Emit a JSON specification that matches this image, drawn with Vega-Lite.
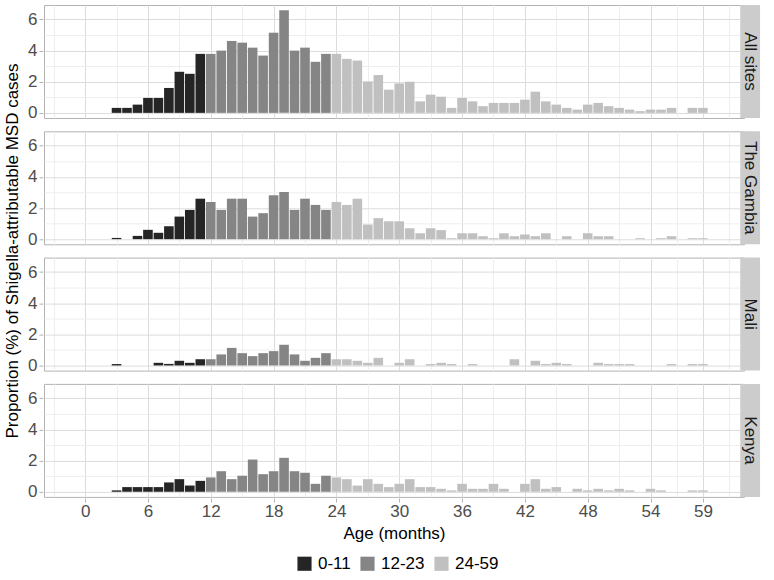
{
  "$schema": "https://vega.github.io/schema/vega-lite/v6.json",
  "padding": {"left": 3, "top": 4, "right": 5, "bottom": 5},
  "background": "white",
  "data": {"values": [
    {"site":"All sites","age":3,"group":"0-11","pct":0.32},
    {"site":"All sites","age":4,"group":"0-11","pct":0.32},
    {"site":"All sites","age":5,"group":"0-11","pct":0.53},
    {"site":"All sites","age":6,"group":"0-11","pct":0.96},
    {"site":"All sites","age":7,"group":"0-11","pct":0.96},
    {"site":"All sites","age":8,"group":"0-11","pct":1.6},
    {"site":"All sites","age":9,"group":"0-11","pct":2.64},
    {"site":"All sites","age":10,"group":"0-11","pct":2.51},
    {"site":"All sites","age":11,"group":"0-11","pct":3.79},
    {"site":"All sites","age":12,"group":"12-23","pct":3.79},
    {"site":"All sites","age":13,"group":"12-23","pct":4.0},
    {"site":"All sites","age":14,"group":"12-23","pct":4.62},
    {"site":"All sites","age":15,"group":"12-23","pct":4.51},
    {"site":"All sites","age":16,"group":"12-23","pct":4.19},
    {"site":"All sites","age":17,"group":"12-23","pct":3.68},
    {"site":"All sites","age":18,"group":"12-23","pct":5.15},
    {"site":"All sites","age":19,"group":"12-23","pct":6.6},
    {"site":"All sites","age":20,"group":"12-23","pct":4.0},
    {"site":"All sites","age":21,"group":"12-23","pct":4.19},
    {"site":"All sites","age":22,"group":"12-23","pct":3.28},
    {"site":"All sites","age":23,"group":"12-23","pct":3.79},
    {"site":"All sites","age":24,"group":"24-59","pct":3.79},
    {"site":"All sites","age":25,"group":"24-59","pct":3.47},
    {"site":"All sites","age":26,"group":"24-59","pct":3.36},
    {"site":"All sites","age":27,"group":"24-59","pct":2.02},
    {"site":"All sites","age":28,"group":"24-59","pct":2.43},
    {"site":"All sites","age":29,"group":"24-59","pct":1.49},
    {"site":"All sites","age":30,"group":"24-59","pct":1.89},
    {"site":"All sites","age":31,"group":"24-59","pct":2.0},
    {"site":"All sites","age":32,"group":"24-59","pct":0.74},
    {"site":"All sites","age":33,"group":"24-59","pct":1.17},
    {"site":"All sites","age":34,"group":"24-59","pct":1.04},
    {"site":"All sites","age":35,"group":"24-59","pct":0.32},
    {"site":"All sites","age":36,"group":"24-59","pct":0.96},
    {"site":"All sites","age":37,"group":"24-59","pct":0.74},
    {"site":"All sites","age":38,"group":"24-59","pct":0.43},
    {"site":"All sites","age":39,"group":"24-59","pct":0.64},
    {"site":"All sites","age":40,"group":"24-59","pct":0.64},
    {"site":"All sites","age":41,"group":"24-59","pct":0.64},
    {"site":"All sites","age":42,"group":"24-59","pct":0.85},
    {"site":"All sites","age":43,"group":"24-59","pct":1.36},
    {"site":"All sites","age":44,"group":"24-59","pct":0.74},
    {"site":"All sites","age":45,"group":"24-59","pct":0.53},
    {"site":"All sites","age":46,"group":"24-59","pct":0.32},
    {"site":"All sites","age":47,"group":"24-59","pct":0.21},
    {"site":"All sites","age":48,"group":"24-59","pct":0.53},
    {"site":"All sites","age":49,"group":"24-59","pct":0.64},
    {"site":"All sites","age":50,"group":"24-59","pct":0.43},
    {"site":"All sites","age":51,"group":"24-59","pct":0.32},
    {"site":"All sites","age":52,"group":"24-59","pct":0.21},
    {"site":"All sites","age":53,"group":"24-59","pct":0.11},
    {"site":"All sites","age":54,"group":"24-59","pct":0.21},
    {"site":"All sites","age":55,"group":"24-59","pct":0.21},
    {"site":"All sites","age":56,"group":"24-59","pct":0.32},
    {"site":"All sites","age":58,"group":"24-59","pct":0.32},
    {"site":"All sites","age":59,"group":"24-59","pct":0.32},

    {"site":"The Gambia","age":3,"group":"0-11","pct":0.08},
    {"site":"The Gambia","age":5,"group":"0-11","pct":0.21},
    {"site":"The Gambia","age":6,"group":"0-11","pct":0.6},
    {"site":"The Gambia","age":7,"group":"0-11","pct":0.41},
    {"site":"The Gambia","age":8,"group":"0-11","pct":0.83},
    {"site":"The Gambia","age":9,"group":"0-11","pct":1.45},
    {"site":"The Gambia","age":10,"group":"0-11","pct":1.88},
    {"site":"The Gambia","age":11,"group":"0-11","pct":2.6},
    {"site":"The Gambia","age":12,"group":"12-23","pct":2.39},
    {"site":"The Gambia","age":13,"group":"12-23","pct":1.88},
    {"site":"The Gambia","age":14,"group":"12-23","pct":2.6},
    {"site":"The Gambia","age":15,"group":"12-23","pct":2.6},
    {"site":"The Gambia","age":16,"group":"12-23","pct":1.45},
    {"site":"The Gambia","age":17,"group":"12-23","pct":1.67},
    {"site":"The Gambia","age":18,"group":"12-23","pct":2.82},
    {"site":"The Gambia","age":19,"group":"12-23","pct":3.03},
    {"site":"The Gambia","age":20,"group":"12-23","pct":1.88},
    {"site":"The Gambia","age":21,"group":"12-23","pct":2.6},
    {"site":"The Gambia","age":22,"group":"12-23","pct":2.2},
    {"site":"The Gambia","age":23,"group":"12-23","pct":1.88},
    {"site":"The Gambia","age":24,"group":"24-59","pct":2.39},
    {"site":"The Gambia","age":25,"group":"24-59","pct":2.2},
    {"site":"The Gambia","age":26,"group":"24-59","pct":2.6},
    {"site":"The Gambia","age":27,"group":"24-59","pct":0.94},
    {"site":"The Gambia","age":28,"group":"24-59","pct":1.35},
    {"site":"The Gambia","age":29,"group":"24-59","pct":1.15},
    {"site":"The Gambia","age":30,"group":"24-59","pct":1.15},
    {"site":"The Gambia","age":31,"group":"24-59","pct":0.7},
    {"site":"The Gambia","age":32,"group":"24-59","pct":0.38},
    {"site":"The Gambia","age":33,"group":"24-59","pct":0.7},
    {"site":"The Gambia","age":34,"group":"24-59","pct":0.58},
    {"site":"The Gambia","age":35,"group":"24-59","pct":0.06},
    {"site":"The Gambia","age":36,"group":"24-59","pct":0.38},
    {"site":"The Gambia","age":37,"group":"24-59","pct":0.38},
    {"site":"The Gambia","age":38,"group":"24-59","pct":0.19},
    {"site":"The Gambia","age":39,"group":"24-59","pct":0.06},
    {"site":"The Gambia","age":40,"group":"24-59","pct":0.38},
    {"site":"The Gambia","age":41,"group":"24-59","pct":0.19},
    {"site":"The Gambia","age":42,"group":"24-59","pct":0.3},
    {"site":"The Gambia","age":43,"group":"24-59","pct":0.19},
    {"site":"The Gambia","age":44,"group":"24-59","pct":0.38},
    {"site":"The Gambia","age":46,"group":"24-59","pct":0.19},
    {"site":"The Gambia","age":48,"group":"24-59","pct":0.38},
    {"site":"The Gambia","age":49,"group":"24-59","pct":0.19},
    {"site":"The Gambia","age":50,"group":"24-59","pct":0.19},
    {"site":"The Gambia","age":53,"group":"24-59","pct":0.06},
    {"site":"The Gambia","age":55,"group":"24-59","pct":0.06},
    {"site":"The Gambia","age":56,"group":"24-59","pct":0.19},
    {"site":"The Gambia","age":58,"group":"24-59","pct":0.06},
    {"site":"The Gambia","age":59,"group":"24-59","pct":0.06},

    {"site":"Mali","age":3,"group":"0-11","pct":0.09},
    {"site":"Mali","age":7,"group":"0-11","pct":0.17},
    {"site":"Mali","age":8,"group":"0-11","pct":0.1},
    {"site":"Mali","age":9,"group":"0-11","pct":0.3},
    {"site":"Mali","age":10,"group":"0-11","pct":0.17},
    {"site":"Mali","age":11,"group":"0-11","pct":0.4},
    {"site":"Mali","age":12,"group":"12-23","pct":0.4},
    {"site":"Mali","age":13,"group":"12-23","pct":0.71},
    {"site":"Mali","age":14,"group":"12-23","pct":1.13},
    {"site":"Mali","age":15,"group":"12-23","pct":0.79},
    {"site":"Mali","age":16,"group":"12-23","pct":0.6},
    {"site":"Mali","age":17,"group":"12-23","pct":0.79},
    {"site":"Mali","age":18,"group":"12-23","pct":0.92},
    {"site":"Mali","age":19,"group":"12-23","pct":1.33},
    {"site":"Mali","age":20,"group":"12-23","pct":0.71},
    {"site":"Mali","age":21,"group":"12-23","pct":0.3},
    {"site":"Mali","age":22,"group":"12-23","pct":0.49},
    {"site":"Mali","age":23,"group":"12-23","pct":0.79},
    {"site":"Mali","age":24,"group":"24-59","pct":0.4},
    {"site":"Mali","age":25,"group":"24-59","pct":0.4},
    {"site":"Mali","age":26,"group":"24-59","pct":0.3},
    {"site":"Mali","age":27,"group":"24-59","pct":0.17},
    {"site":"Mali","age":28,"group":"24-59","pct":0.49},
    {"site":"Mali","age":30,"group":"24-59","pct":0.17},
    {"site":"Mali","age":31,"group":"24-59","pct":0.4},
    {"site":"Mali","age":33,"group":"24-59","pct":0.09},
    {"site":"Mali","age":34,"group":"24-59","pct":0.17},
    {"site":"Mali","age":35,"group":"24-59","pct":0.09},
    {"site":"Mali","age":37,"group":"24-59","pct":0.09},
    {"site":"Mali","age":41,"group":"24-59","pct":0.4},
    {"site":"Mali","age":43,"group":"24-59","pct":0.3},
    {"site":"Mali","age":44,"group":"24-59","pct":0.09},
    {"site":"Mali","age":45,"group":"24-59","pct":0.17},
    {"site":"Mali","age":46,"group":"24-59","pct":0.09},
    {"site":"Mali","age":49,"group":"24-59","pct":0.17},
    {"site":"Mali","age":50,"group":"24-59","pct":0.09},
    {"site":"Mali","age":51,"group":"24-59","pct":0.09},
    {"site":"Mali","age":52,"group":"24-59","pct":0.09},
    {"site":"Mali","age":56,"group":"24-59","pct":0.09},
    {"site":"Mali","age":58,"group":"24-59","pct":0.09},
    {"site":"Mali","age":59,"group":"24-59","pct":0.09},

    {"site":"Kenya","age":3,"group":"0-11","pct":0.09},
    {"site":"Kenya","age":4,"group":"0-11","pct":0.3},
    {"site":"Kenya","age":5,"group":"0-11","pct":0.3},
    {"site":"Kenya","age":6,"group":"0-11","pct":0.3},
    {"site":"Kenya","age":7,"group":"0-11","pct":0.3},
    {"site":"Kenya","age":8,"group":"0-11","pct":0.6},
    {"site":"Kenya","age":9,"group":"0-11","pct":0.81},
    {"site":"Kenya","age":10,"group":"0-11","pct":0.4},
    {"site":"Kenya","age":11,"group":"0-11","pct":0.7},
    {"site":"Kenya","age":12,"group":"12-23","pct":0.92},
    {"site":"Kenya","age":13,"group":"12-23","pct":1.32},
    {"site":"Kenya","age":14,"group":"12-23","pct":0.81},
    {"site":"Kenya","age":15,"group":"12-23","pct":1.03},
    {"site":"Kenya","age":16,"group":"12-23","pct":2.07},
    {"site":"Kenya","age":17,"group":"12-23","pct":1.13},
    {"site":"Kenya","age":18,"group":"12-23","pct":1.32},
    {"site":"Kenya","age":19,"group":"12-23","pct":2.18},
    {"site":"Kenya","age":20,"group":"12-23","pct":1.32},
    {"site":"Kenya","age":21,"group":"12-23","pct":1.22},
    {"site":"Kenya","age":22,"group":"12-23","pct":0.51},
    {"site":"Kenya","age":23,"group":"12-23","pct":1.03},
    {"site":"Kenya","age":24,"group":"24-59","pct":0.92},
    {"site":"Kenya","age":25,"group":"24-59","pct":0.81},
    {"site":"Kenya","age":26,"group":"24-59","pct":0.4},
    {"site":"Kenya","age":27,"group":"24-59","pct":0.81},
    {"site":"Kenya","age":28,"group":"24-59","pct":0.51},
    {"site":"Kenya","age":29,"group":"24-59","pct":0.3},
    {"site":"Kenya","age":30,"group":"24-59","pct":0.51},
    {"site":"Kenya","age":31,"group":"24-59","pct":0.81},
    {"site":"Kenya","age":32,"group":"24-59","pct":0.3},
    {"site":"Kenya","age":33,"group":"24-59","pct":0.3},
    {"site":"Kenya","age":34,"group":"24-59","pct":0.19},
    {"site":"Kenya","age":35,"group":"24-59","pct":0.09},
    {"site":"Kenya","age":36,"group":"24-59","pct":0.51},
    {"site":"Kenya","age":37,"group":"24-59","pct":0.19},
    {"site":"Kenya","age":38,"group":"24-59","pct":0.19},
    {"site":"Kenya","age":39,"group":"24-59","pct":0.51},
    {"site":"Kenya","age":40,"group":"24-59","pct":0.19},
    {"site":"Kenya","age":42,"group":"24-59","pct":0.51},
    {"site":"Kenya","age":43,"group":"24-59","pct":0.81},
    {"site":"Kenya","age":44,"group":"24-59","pct":0.19},
    {"site":"Kenya","age":45,"group":"24-59","pct":0.3},
    {"site":"Kenya","age":47,"group":"24-59","pct":0.19},
    {"site":"Kenya","age":48,"group":"24-59","pct":0.09},
    {"site":"Kenya","age":49,"group":"24-59","pct":0.19},
    {"site":"Kenya","age":50,"group":"24-59","pct":0.09},
    {"site":"Kenya","age":51,"group":"24-59","pct":0.19},
    {"site":"Kenya","age":52,"group":"24-59","pct":0.09},
    {"site":"Kenya","age":54,"group":"24-59","pct":0.19},
    {"site":"Kenya","age":55,"group":"24-59","pct":0.09},
    {"site":"Kenya","age":58,"group":"24-59","pct":0.09},
    {"site":"Kenya","age":59,"group":"24-59","pct":0.09}
  ]},
  "facet": {
    "row": {
      "field": "site",
      "type": "nominal",
      "sort": ["All sites", "The Gambia", "Mali", "Kenya"],
      "header": {
        "title": "Proportion (%) of Shigella-attributable MSD cases",
        "labels": false,
        "titleFontSize": 17,
        "titleFontWeight": "normal",
        "titleColor": "#000000",
        "titlePadding": -5
      }
    }
  },
  "spacing": {"row": 11.3},
  "spec": {
    "width": 700,
    "height": 113,
    "layer": [
      {
        "mark": {"type": "bar", "width": 9.6},
        "encoding": {
          "x": {
            "field": "age",
            "type": "quantitative",
            "scale": {"domain": [-3.45, 62.45], "nice": false, "zero": false},
            "axis": {
              "title": "Age (months)",
              "values": [-3, 0, 3, 6, 9, 12, 15, 18, 21, 24, 27, 30, 33, 36, 39, 42, 45, 48, 51, 54, 56.5, 59, 61.5],
              "labelExpr": "indexof([0,6,12,18,24,30,36,42,48,54,59], datum.value) >= 0 ? datum.label : ''",
              "labelOverlap": false,
              "labelFlush": false,
              "gridColor": {"condition": {"test": "indexof([0,6,12,18,24,30,36,42,48,54,59], datum.value) >= 0", "value": "#dcdcdc"}, "value": "#eeeeee"},
              "tickOpacity": {"condition": {"test": "indexof([0,6,12,18,24,30,36,42,48,54,59], datum.value) >= 0", "value": 1}, "value": 0},
              "titlePadding": 6
            }
          },
          "y": {
            "field": "pct",
            "type": "quantitative",
            "scale": {"domain": [-0.33, 6.93], "nice": false, "zero": false},
            "axis": {
              "title": null,
              "values": [0, 1, 2, 3, 4, 5, 6],
              "labelExpr": "datum.value % 2 == 0 ? datum.label : ''",
              "labelOverlap": false,
              "gridColor": {"condition": {"test": "datum.value % 2 == 0", "value": "#dcdcdc"}, "value": "#eeeeee"},
              "tickOpacity": {"condition": {"test": "datum.value % 2 == 0", "value": 1}, "value": 0},
              "labelPadding": 2
            }
          },
          "color": {
            "field": "group",
            "type": "nominal",
            "scale": {"domain": ["0-11", "12-23", "24-59"], "range": ["#252525", "#858585", "#c0c0c0"]},
            "legend": {
              "title": null,
              "orient": "none",
              "legendX": 252,
              "legendY": 550,
              "direction": "horizontal",
              "symbolType": "square",
              "symbolSize": 200,
              "symbolStrokeWidth": 0,
              "labelFontSize": 17,
              "labelColor": "#000000",
              "columnPadding": 8,
              "labelOffset": 5
            }
          }
        }
      },
      {
        "transform": [{"aggregate": [{"op": "count", "as": "n"}], "groupby": ["site"]}],
        "mark": {"type": "rect", "color": "#cccccc", "clip": false},
        "encoding": {
          "x": {
            "datum": 62.57,
            "type": "quantitative",
            "scale": {"domain": [-3.45, 62.45], "nice": false, "zero": false},
            "axis": {
              "title": "Age (months)",
              "values": [-3, 0, 3, 6, 9, 12, 15, 18, 21, 24, 27, 30, 33, 36, 39, 42, 45, 48, 51, 54, 56.5, 59, 61.5],
              "labelExpr": "indexof([0,6,12,18,24,30,36,42,48,54,59], datum.value) >= 0 ? datum.label : ''",
              "labelOverlap": false,
              "labelFlush": false,
              "gridColor": {"condition": {"test": "indexof([0,6,12,18,24,30,36,42,48,54,59], datum.value) >= 0", "value": "#dcdcdc"}, "value": "#eeeeee"},
              "tickOpacity": {"condition": {"test": "indexof([0,6,12,18,24,30,36,42,48,54,59], datum.value) >= 0", "value": 1}, "value": 0},
              "titlePadding": 6
            }
          },
          "x2": {"datum": 64.46},
          "y": {
            "datum": -0.33,
            "type": "quantitative",
            "scale": {"domain": [-0.33, 6.93], "nice": false, "zero": false},
            "axis": {
              "title": null,
              "values": [0, 1, 2, 3, 4, 5, 6],
              "labelExpr": "datum.value % 2 == 0 ? datum.label : ''",
              "labelOverlap": false,
              "gridColor": {"condition": {"test": "datum.value % 2 == 0", "value": "#dcdcdc"}, "value": "#eeeeee"},
              "tickOpacity": {"condition": {"test": "datum.value % 2 == 0", "value": 1}, "value": 0},
              "labelPadding": 2
            }
          },
          "y2": {"datum": 6.93}
        }
      },
      {
        "transform": [{"aggregate": [{"op": "count", "as": "n"}], "groupby": ["site"]}],
        "mark": {"type": "text", "angle": 90, "fontSize": 17, "color": "#1a1a1a", "align": "center", "baseline": "middle", "clip": false},
        "encoding": {
          "x": {
            "datum": 63.51,
            "type": "quantitative",
            "scale": {"domain": [-3.45, 62.45], "nice": false, "zero": false},
            "axis": {
              "title": "Age (months)",
              "values": [-3, 0, 3, 6, 9, 12, 15, 18, 21, 24, 27, 30, 33, 36, 39, 42, 45, 48, 51, 54, 56.5, 59, 61.5],
              "labelExpr": "indexof([0,6,12,18,24,30,36,42,48,54,59], datum.value) >= 0 ? datum.label : ''",
              "labelOverlap": false,
              "labelFlush": false,
              "gridColor": {"condition": {"test": "indexof([0,6,12,18,24,30,36,42,48,54,59], datum.value) >= 0", "value": "#dcdcdc"}, "value": "#eeeeee"},
              "tickOpacity": {"condition": {"test": "indexof([0,6,12,18,24,30,36,42,48,54,59], datum.value) >= 0", "value": 1}, "value": 0},
              "titlePadding": 6
            }
          },
          "y": {
            "datum": 3.3,
            "type": "quantitative",
            "scale": {"domain": [-0.33, 6.93], "nice": false, "zero": false},
            "axis": {
              "title": null,
              "values": [0, 1, 2, 3, 4, 5, 6],
              "labelExpr": "datum.value % 2 == 0 ? datum.label : ''",
              "labelOverlap": false,
              "gridColor": {"condition": {"test": "datum.value % 2 == 0", "value": "#dcdcdc"}, "value": "#eeeeee"},
              "tickOpacity": {"condition": {"test": "datum.value % 2 == 0", "value": 1}, "value": 0},
              "labelPadding": 2
            }
          },
          "text": {"field": "site", "type": "nominal"}
        }
      }
    ]
  },
  "config": {
    "font": "Liberation Sans",
    "view": {"stroke": "#b3b3b3", "strokeWidth": 1},
    "axis": {
      "domain": false,
      "labelFontSize": 17,
      "labelColor": "#4d4d4d",
      "tickColor": "#b3b3b3",
      "tickSize": 4,
      "labelPadding": 1,
      "titleFontSize": 17,
      "titleFontWeight": "normal",
      "titleColor": "#000000",
      "gridWidth": 1
    }
  }
}
